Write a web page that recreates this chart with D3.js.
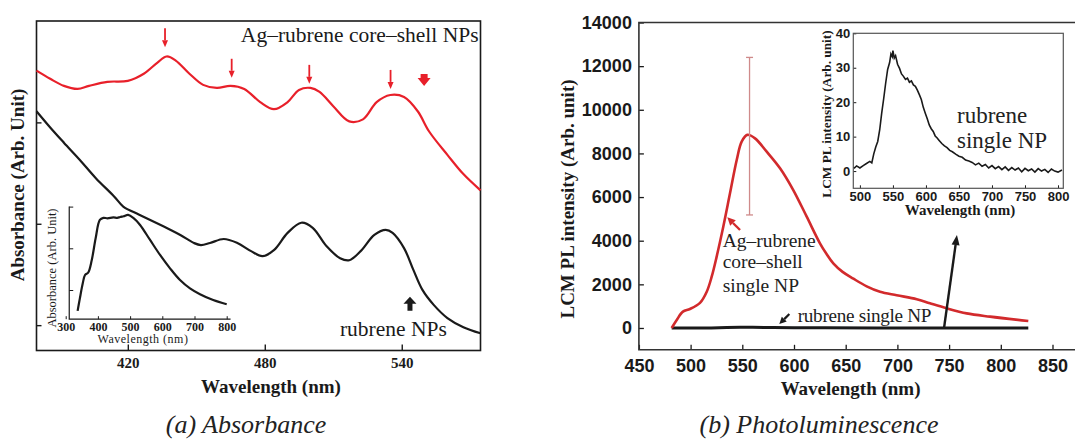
<!DOCTYPE html>
<html>
<head>
<meta charset="utf-8">
<script src="https://cdn.jsdelivr.net/npm/d3@7"></script>
<style>
  html, body { margin: 0; padding: 0; background: #fff; }
  svg { display: block; }
</style>
</head>
<body>
<div id="chart"></div>
<script>
// ---- (a) absorbance, main plot ----
const absAgWavelength = [380, 386, 392, 398, 403, 411, 420, 427, 433, 437, 441, 447, 453, 459, 465, 471, 478, 484, 490, 495, 500, 504, 510, 517, 523, 529, 535, 541, 547, 552, 560, 567, 574.5];
const absAgValues = [3.51, 3.43, 3.36, 3.33, 3.36, 3.40, 3.41, 3.48, 3.59, 3.65, 3.61, 3.48, 3.37, 3.34, 3.36, 3.33, 3.20, 3.13, 3.20, 3.32, 3.34, 3.30, 3.16, 3.01, 3.03, 3.20, 3.27, 3.25, 3.11, 2.91, 2.68, 2.49, 2.33];
const absRubreneWavelength = [380, 386, 392, 399, 406, 414, 418, 425, 436, 443, 449, 452, 456, 462, 468, 474, 479, 484, 490, 496, 501, 507, 513, 517, 522, 528, 533, 536, 541, 545, 549, 554, 560, 567, 574.5];
const absRubreneValues = [3.11, 2.95, 2.80, 2.63, 2.45, 2.27, 2.17, 2.09, 1.97, 1.89, 1.81, 1.79, 1.81, 1.85, 1.81, 1.73, 1.68, 1.74, 1.91, 2.01, 1.96, 1.78, 1.66, 1.64, 1.73, 1.89, 1.94, 1.91, 1.76, 1.55, 1.35, 1.20, 1.07, 0.98, 0.92];
const absXTicks = [420, 480, 540];
const absYTicks = [1, 2, 3];

// ---- (a) inset: rubrene solution absorbance ----
const absInsetWavelength = [337, 344, 353, 360, 370, 381, 393, 406, 417, 430, 448, 460, 469, 480, 494, 510, 531, 562, 593, 624, 655, 686, 717, 758, 800];
const absInsetValues = [0.50, 0.80, 1.16, 1.36, 1.42, 1.72, 2.24, 2.68, 2.73, 2.72, 2.74, 2.73, 2.75, 2.77, 2.80, 2.73, 2.56, 2.20, 1.84, 1.52, 1.24, 1.04, 0.90, 0.76, 0.66];
const absInsetXTicks = [300, 400, 500, 600, 700, 800];
const absInsetYTicks = [1, 2, 3];

// peak markers (wavelength, arrow tip value)
const absPeakWavelength = [436.3, 465.5, 499.5, 535.1];
const absPeakTip = [3.74, 3.44, 3.38, 3.33];

// ---- (b) photoluminescence, main plot ----
const plAgWavelength = [481.7, 486.6, 492.6, 499.4, 509.1, 515.6, 520.4, 525.2, 531.6, 538.1, 544.6, 549.4, 554.8, 562.3, 573.6, 586.5, 599.3, 612.3, 625.1, 631.5, 638, 647, 657.4, 670.3, 683.2, 699.3, 718.7, 731.5, 747.7, 767, 789.6, 826.6];
const plAgValues = [0, 370, 750, 870, 1150, 1660, 2350, 3270, 4640, 6170, 7700, 8540, 8850, 8690, 8080, 7320, 6320, 5100, 3880, 3390, 2960, 2570, 2260, 1910, 1660, 1500, 1320, 1130, 900, 670, 520, 320];
const plRubreneWavelength = [481.7, 500, 520, 535, 548, 560, 580, 600, 630, 680, 750, 826.6];
const plRubreneValues = [0, 1, 3, 20, 34, 29, 25, 15, 7, 2, 0, 0];
const errWavelength = [557];
const errLow = [5180];
const errHigh = [12400];
const plXTicks = [450, 500, 550, 600, 650, 700, 750, 800, 850];
const plYTicks = [0, 2000, 4000, 6000, 8000, 10000, 12000, 14000];

// ---- (b) inset: rubrene single NP ----
const plInsetWavelength = [491, 495, 500, 505, 510, 515, 518, 521, 524, 527, 530, 533, 536, 539, 542, 545, 547, 549, 550, 552, 554, 557, 560, 563, 566, 569, 572, 575, 578, 581, 584, 587, 590, 593, 596, 599, 602, 605, 608, 611, 614, 617, 620, 624, 628, 632, 636, 640, 645, 650, 655, 660, 665, 670, 675, 680, 685, 690, 695, 700, 705, 710, 715, 720, 725, 730, 735, 740, 745, 750, 755, 760, 765, 770, 775, 780, 785, 790, 795, 800, 806];
const plInsetValues = [0.8, 1.5, 0.9, 1.6, 2.2, 2.8, 2.4, 5.0, 7.0, 8.6, 12.0, 16.8, 21.0, 25.5, 29.5, 31.5, 34.0, 33.2, 35.0, 32.8, 33.5, 31.0, 29.8, 28.2, 27.5, 26.6, 27.0, 25.8, 26.2, 25.0, 24.6, 23.5, 22.2, 20.8, 18.5, 16.8, 15.2, 13.4, 12.3, 11.5, 10.2, 9.6, 8.9, 8.0, 7.3, 6.8, 6.0, 5.6, 4.9, 4.3, 4.0, 3.2, 2.9, 2.5, 1.8, 2.3, 1.4, 1.9, 0.9, 1.6, 0.7, 1.3, 0.4, 1.2, 0.2, 1.0, 0.3, 0.9, -0.2, 0.8, 0.1, 0.6, -0.3, 0.7, 0.0, 0.5, -0.4, 0.6, 0.0, -0.3, 0.3];
const plInsetXTicks = [500, 550, 600, 650, 700, 750, 800];
const plInsetYTicks = [0, 10, 20, 30, 40];

const SERIF = "'Liberation Serif', 'Times New Roman', serif";
const SANS = "'Liberation Sans', Arial, sans-serif";
const RED_A = "#e8202a";
const RED_B = "#d22a2c";
const INK = "#1a1a1a";

const svg = d3.select("#chart").append("svg").attr("width", 1075).attr("height", 439);
svg.append("rect").attr("width", 1075).attr("height", 439).attr("fill", "#fff");

const zip = (xs, ys) => xs.map((x, i) => [x, ys[i]]);

function styleAxis(g, font, size, weight, tickWidth) {
  g.attr("font-family", font).attr("font-size", size).attr("font-weight", weight);
  g.select(".domain").remove();
  g.selectAll(".tick line").attr("stroke", INK).attr("stroke-width", tickWidth);
  g.selectAll(".tick text").attr("fill", INK);
}

// thin arrow with filled head
function arrow(g, x1, y1, x2, y2, color, width, headLen, headHalf) {
  const ang = Math.atan2(y2 - y1, x2 - x1);
  const bx = x2 - headLen * Math.cos(ang), by = y2 - headLen * Math.sin(ang);
  const px = -Math.sin(ang) * headHalf, py = Math.cos(ang) * headHalf;
  g.append("line").attr("x1", x1).attr("y1", y1).attr("x2", bx).attr("y2", by)
    .attr("stroke", color).attr("stroke-width", width);
  g.append("path").attr("d", `M${x2},${y2}L${bx + px},${by + py}L${bx - px},${by - py}Z`).attr("fill", color);
}

// vertical block arrow, dir 1 = down, -1 = up
function blockArrow(g, x, tipY, dir, shaftW, shaftL, headW, headL, color) {
  const baseY = tipY - dir * headL, endY = baseY - dir * shaftL;
  g.append("path")
    .attr("d", `M${x - shaftW / 2},${endY}L${x + shaftW / 2},${endY}L${x + shaftW / 2},${baseY}` +
      `L${x + headW / 2},${baseY}L${x},${tipY}L${x - headW / 2},${baseY}L${x - shaftW / 2},${baseY}Z`)
    .attr("fill", color);
}

// ================= (a) Absorbance =================
const xA = d3.scaleLinear().domain([380, 574.5]).range([36.5, 480.5]);
const yA = d3.scaleLinear().domain([0.75, 4.0]).range([350.5, 21]);
const pa = svg.append("g");

pa.append("g").attr("transform", `translate(0,${yA.range()[0]})`)
  .call(d3.axisBottom(xA).tickValues(absXTicks).tickSizeInner(-6).tickSizeOuter(0).tickPadding(7))
  .call(g => styleAxis(g, SERIF, 15, "bold", 1.4));
pa.append("g").attr("transform", `translate(${xA.range()[0]},0)`)
  .call(d3.axisLeft(yA).tickValues(absYTicks).tickSizeInner(-5).tickSizeOuter(0).tickFormat(""))
  .call(g => styleAxis(g, SERIF, 15, "bold", 1.4));
pa.append("rect")
  .attr("x", xA.range()[0]).attr("y", yA.range()[1])
  .attr("width", xA.range()[1] - xA.range()[0]).attr("height", yA.range()[0] - yA.range()[1])
  .attr("fill", "none").attr("stroke", INK).attr("stroke-width", 1.6);

const lineA = d3.line().x(d => xA(d[0])).y(d => yA(d[1])).curve(d3.curveCatmullRom);
pa.append("path").datum(zip(absRubreneWavelength, absRubreneValues)).attr("d", lineA)
  .attr("fill", "none").attr("stroke", INK).attr("stroke-width", 2.2);
pa.append("path").datum(zip(absAgWavelength, absAgValues)).attr("d", lineA)
  .attr("fill", "none").attr("stroke", RED_A).attr("stroke-width", 2.2);

absPeakWavelength.forEach((w, i) => {
  const tip = yA(absPeakTip[i]);
  arrow(pa, xA(w), tip - 19, xA(w), tip, RED_A, 1.8, 7, 3);
});
blockArrow(pa, xA(549.8), yA(3.36), 1, 7, 4, 13, 8, RED_A);
blockArrow(pa, xA(543.6), yA(1.28), -1, 5, 7, 13, 7, INK);

pa.append("text").attr("x", xA.range()[1] - 2).attr("y", yA(3.79))
  .attr("text-anchor", "end").attr("font-family", SERIF).attr("font-size", 21.5).attr("fill", INK)
  .text("Ag\u2013rubrene core\u2013shell NPs");
pa.append("text").attr("x", xA(512.9)).attr("y", yA(0.894))
  .attr("font-family", SERIF).attr("font-size", 21.5).attr("fill", INK)
  .text("rubrene NPs");

pa.append("text").attr("x", 271).attr("y", 393).attr("text-anchor", "middle")
  .attr("font-family", SERIF).attr("font-size", 19).attr("font-weight", "bold").attr("fill", INK)
  .text("Wavelength (nm)");
pa.append("text").attr("transform", "translate(24,185) rotate(-90)").attr("text-anchor", "middle")
  .attr("font-family", SERIF).attr("font-size", 19).attr("font-weight", "bold").attr("fill", INK)
  .text("Absorbance (Arb. Unit)");

// inset (a)
const xAi = d3.scaleLinear().domain([300, 800]).range([65.7, 226.7]);
const yAi = d3.scaleLinear().domain([0.3, 3.0]).range([319.2, 206.6]);
const ia = svg.append("g");
ia.append("g").attr("transform", `translate(0,${yAi.range()[0]})`)
  .call(d3.axisBottom(xAi).tickValues(absInsetXTicks).tickSizeInner(-3).tickSizeOuter(0).tickPadding(3))
  .call(g => styleAxis(g, SERIF, 12, "bold", 1));
ia.append("g").attr("transform", `translate(${xAi(311)},0)`)
  .call(d3.axisLeft(yAi).tickValues(absInsetYTicks).tickSizeInner(-4).tickSizeOuter(0).tickFormat(""))
  .call(g => styleAxis(g, SERIF, 12, "bold", 1));
ia.append("path")
  .attr("d", `M${xAi(311)},${yAi(3.0)}V${yAi(0.3)}H${xAi(812)}`)
  .attr("fill", "none").attr("stroke", INK).attr("stroke-width", 1.2);
ia.append("path").datum(zip(absInsetWavelength, absInsetValues))
  .attr("d", d3.line().x(d => xAi(d[0])).y(d => yAi(d[1])).curve(d3.curveCatmullRom))
  .attr("fill", "none").attr("stroke", INK).attr("stroke-width", 2.2);
ia.append("text").attr("x", 143).attr("y", 343).attr("text-anchor", "middle")
  .attr("font-family", SERIF).attr("font-size", 12).attr("letter-spacing", 0.5).attr("fill", INK)
  .text("Wavelength (nm)");
ia.append("text").attr("transform", "translate(56,268) rotate(-90)").attr("text-anchor", "middle")
  .attr("font-family", SERIF).attr("font-size", 12.5).attr("fill", INK)
  .text("Absorbance (Arb. Unit)");

svg.append("text").attr("x", 246).attr("y", 433).attr("text-anchor", "middle")
  .attr("font-family", SERIF).attr("font-style", "italic").attr("font-size", 26).attr("fill", "#222")
  .text("(a) Absorbance");

// ================= (b) Photoluminescence =================
const xB = d3.scaleLinear().domain([450, 900]).range([638.9, 1104.2]);
const yB = d3.scaleLinear().domain([-1000, 14000]).range([349.8, 22.5]);
const pb = svg.append("g");

pb.append("g").attr("transform", `translate(0,${yB.range()[0]})`)
  .call(d3.axisBottom(xB).tickValues(plXTicks).tickSizeInner(-5).tickSizeOuter(0).tickPadding(9.5))
  .call(g => styleAxis(g, SANS, 18, "bold", 1.3));
pb.append("g").attr("transform", `translate(${xB.range()[0]},0)`)
  .call(d3.axisLeft(yB).tickValues(plYTicks).tickFormat(d3.format("d")).tickSizeInner(-5).tickSizeOuter(0).tickPadding(7))
  .call(g => styleAxis(g, SANS, 18, "bold", 1.3));
pb.append("path")
  .attr("d", `M${xB.range()[1]},${yB.range()[1]}H${xB.range()[0]}V${yB.range()[0]}H${xB.range()[1]}`)
  .attr("fill", "none").attr("stroke", "#333").attr("stroke-width", 1.6);

const lineB = d3.line().x(d => xB(d[0])).y(d => yB(d[1]));
pb.append("path").datum(zip(plRubreneWavelength, plRubreneValues)).attr("d", lineB.curve(d3.curveLinear))
  .attr("fill", "none").attr("stroke", INK).attr("stroke-width", 3);
pb.append("path").datum(zip(plAgWavelength, plAgValues)).attr("d", lineB.curve(d3.curveCatmullRom))
  .attr("fill", "none").attr("stroke", RED_B).attr("stroke-width", 2.6);

errWavelength.forEach((w, i) => {
  const x = xB(w);
  const eg = pb.append("g").attr("stroke", "#cf8a8a").attr("stroke-width", 1.3);
  eg.append("line").attr("x1", x).attr("x2", x).attr("y1", yB(errHigh[i])).attr("y2", yB(errLow[i]));
  eg.append("line").attr("x1", x - 3.5).attr("x2", x + 3.5).attr("y1", yB(errHigh[i])).attr("y2", yB(errHigh[i]));
  eg.append("line").attr("x1", x - 3.5).attr("x2", x + 3.5).attr("y1", yB(errLow[i])).attr("y2", yB(errLow[i]));
});

// annotations
arrow(pb, xB(547.8), yB(4490), xB(535.5), yB(5070), RED_B, 2.4, 8, 4);
arrow(pb, xB(595.5), yB(640), xB(585.8), yB(180), INK, 2.2, 7, 3.5);
arrow(pb, xB(745.1), yB(0), xB(757.6), yB(4260), INK, 2.4, 10, 4);

const agLines = ["Ag\u2013rubrene", "core\u2013shell", "single NP"];
const agBase = [3726, 2736, 1664];
agLines.forEach((t, i) => {
  pb.append("text").attr("x", xB(531)).attr("y", yB(agBase[i]))
    .attr("font-family", SERIF).attr("font-size", 19.5).attr("fill", "#222").text(t);
});
pb.append("text").attr("x", xB(603.6)).attr("y", yB(289))
  .attr("font-family", SERIF).attr("font-size", 19.2).attr("letter-spacing", -0.3).attr("fill", "#222")
  .text("rubrene single NP");

pb.append("text").attr("x", 850.6).attr("y", 395).attr("text-anchor", "middle")
  .attr("font-family", SERIF).attr("font-size", 19).attr("font-weight", "bold").attr("fill", INK)
  .text("Wavelength (nm)");
pb.append("text").attr("transform", "translate(574,199) rotate(-90)").attr("text-anchor", "middle")
  .attr("font-family", SERIF).attr("font-size", 19).attr("font-weight", "bold").attr("fill", INK)
  .text("LCM PL intensity (Arb. unit)");

// inset (b)
const xBi = d3.scaleLinear().domain([490, 808]).range([853.3, 1063.3]);
const yBi = d3.scaleLinear().domain([-5, 40]).range([188.3, 33.3]);
const ib = svg.append("g");
ib.append("rect").attr("x", 853.3).attr("y", 33.3).attr("width", 210).attr("height", 155).attr("fill", "#fff");
ib.append("g").attr("transform", `translate(0,${yBi.range()[0]})`)
  .call(d3.axisBottom(xBi).tickValues(plInsetXTicks).tickSizeInner(-3).tickSizeOuter(0).tickPadding(3))
  .call(g => styleAxis(g, SANS, 13, "bold", 1));
ib.append("g").attr("transform", `translate(${xBi.range()[0]},0)`)
  .call(d3.axisLeft(yBi).tickValues(plInsetYTicks).tickSizeInner(-3).tickSizeOuter(0).tickPadding(3))
  .call(g => styleAxis(g, SANS, 13, "bold", 1));
ib.append("rect")
  .attr("x", xBi.range()[0]).attr("y", yBi.range()[1])
  .attr("width", xBi.range()[1] - xBi.range()[0]).attr("height", yBi.range()[0] - yBi.range()[1])
  .attr("fill", "none").attr("stroke", "#555").attr("stroke-width", 1.2);
ib.append("path").datum(zip(plInsetWavelength, plInsetValues))
  .attr("d", d3.line().x(d => xBi(d[0])).y(d => yBi(d[1])))
  .attr("fill", "none").attr("stroke", INK).attr("stroke-width", 1.6);
ib.append("text").attr("x", xBi(647)).attr("y", yBi(13.9))
  .attr("font-family", SERIF).attr("font-size", 23).attr("fill", "#222").text("rubrene");
ib.append("text").attr("x", xBi(647)).attr("y", yBi(6.6))
  .attr("font-family", SERIF).attr("font-size", 23).attr("fill", "#222").text("single NP");
ib.append("text").attr("x", 960).attr("y", 215).attr("text-anchor", "middle")
  .attr("font-family", SERIF).attr("font-size", 15).attr("font-weight", "bold").attr("fill", INK)
  .text("Wavelength (nm)");
ib.append("text").attr("transform", "translate(831,114) rotate(-90)").attr("text-anchor", "middle")
  .attr("font-family", SERIF).attr("font-size", 13.3).attr("font-weight", "bold").attr("fill", INK)
  .text("LCM PL intensity (Arb. unit)");

svg.append("text").attr("x", 819).attr("y", 433).attr("text-anchor", "middle")
  .attr("font-family", SERIF).attr("font-style", "italic").attr("font-size", 26).attr("fill", "#222")
  .text("(b) Photoluminescence");
</script>
</body>
</html>
